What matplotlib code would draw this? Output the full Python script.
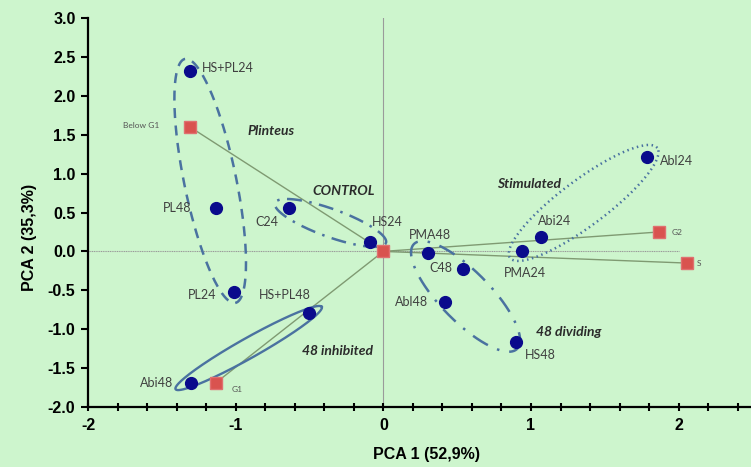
import numpy as np
import matplotlib
matplotlib.use("Agg")
import matplotlib.pyplot as plt

plt.rcParams["axes.unicode_minus"] = False

# samples (circles)
sample_names = ["HS+PL24", "PL48", "PL24", "C24", "HS24", "PMA48", "C48", "Abl48",
                "HS48", "PMA24", "Abi24", "Abl24", "HS+PL48", "Abi48"]
sample_x = [-1.31, -1.135, -1.01, -0.64, -0.09, 0.305, 0.54, 0.42,
            0.90, 0.94, 1.07, 1.785, -0.50, -1.305]
sample_y = [2.32, 0.555, -0.52, 0.555, 0.12, -0.015, -0.23, -0.65,
            -1.16, 0.0, 0.19, 1.21, -0.79, -1.69]
# label offsets in pixels (dx, dy, ha)
sample_lab = [(12, 3, "left"), (-24, 0, "right"), (-18, -3, "right"), (-10, -14, "right"),
              (2, 20, "left"), (2, 18, "center"), (-11, 1, "right"), (-17, 0, "right"),
              (9, -13, "left"), (3, -22, "center"), (13, 16, "center"), (13, -4, "left"),
              (1, 18, "right"), (-17, 0, "right")]

# cell cycle vectors (squares)
vec_names = ["Below G1", "G1", "G2", "S"]
vec_x = [-1.31, -1.135, 1.87, 2.055]
vec_y = [1.60, -1.69, 0.25, -0.15]
vec_lab = [(-31, 1, "right"), (16, -7, "left"), (12, -1, "left"), (10, 0, "left")]

# groups: ellipse end points (data), half width (px), line style, title position
group_names = ["Plinteus", "CONTROL", "Stimulated", "48 dividing", "48 inhibited"]
group_p1 = [(-1.343, 2.474), (-0.734, 0.623), (0.858, -0.084), (0.208, 0.096), (-1.407, -1.771)]
group_p2 = [(-1.002, -0.662), (0.018, 0.109), (1.855, 1.330), (0.906, -1.253), (-0.417, -0.713)]
group_hw = [26, 14, 23, 25, 10]
group_ls = [(0, (4, 3)), (0, (6, 3, 1, 3)), (0, (0.6, 1.4)), (0, (7, 4, 1, 4)), "-"]
group_txt = [(-0.761, 1.549), (-0.27, 0.778), (0.987, 0.868), (1.258, -1.035), (-0.307, -1.279)]

bg = "#cdf5cd"
ell_col = "#4a72a0"

fig = plt.figure(figsize=(7.51, 4.67), dpi=100, facecolor=bg)
ax = fig.add_axes([88 / 751, 1 - 407 / 467, 663 / 751, 389 / 467])
ax.set_facecolor(bg)
ax.set_xlim(-2, 2.49)
ax.set_ylim(-2, 3)

for s in ["top", "right"]:
    ax.spines[s].set_visible(False)
for s in ["left", "bottom"]:
    ax.spines[s].set_linewidth(1.6)
    ax.spines[s].set_color("black")

ax.set_xticks([-2, -1, 0, 1, 2])
ax.set_xticks(np.arange(-2, 2.41, 0.2), minor=True)
ax.set_yticks(np.arange(-2, 3.01, 0.5))
ax.set_yticklabels(["%.1f" % v for v in np.arange(-2, 3.01, 0.5)])
ax.tick_params(axis="x", which="both", direction="inout", length=6, width=1.5,
               labelsize=11.5, pad=5)
ax.tick_params(axis="y", which="major", direction="out", length=5, width=1.5,
               labelsize=11.5, pad=4)
for lab in ax.get_xticklabels() + ax.get_yticklabels():
    lab.set_fontweight("bold")
    lab.set_family("Liberation Sans")

ax.set_xlabel("PCA 1 (52,9%)", fontsize=11.5, fontweight="bold", family="Liberation Sans")
ax.set_ylabel("PCA 2 (35,3%)", fontsize=11.5, fontweight="bold", family="Liberation Sans")
ax.xaxis.set_label_coords(0.511, -0.102)
ax.yaxis.set_label_coords(-0.077, 0.437)

# reference axes through origin
ax.plot([-2, 2], [0, 0], color="#9a9a9a", lw=0.8, ls=(0, (1, 0.6)), zorder=1)
ax.plot([0, 0], [-2, 3], color="#9a9a9a", lw=0.8, zorder=1)

# vectors from origin
for vx, vy in zip(vec_x, vec_y):
    ax.plot([0, vx], [0, vy], color="#7f9a72", lw=1.0, zorder=2)

# group ellipses drawn in screen space
fig.canvas.draw()
tr = ax.transData
inv = tr.inverted()
t = np.linspace(0, 2 * np.pi, 300)
for p1, p2, hw, ls in zip(group_p1, group_p2, group_hw, group_ls):
    a = tr.transform(p1)
    b = tr.transform(p2)
    c = (a + b) / 2
    d = b - a
    L = np.hypot(*d) / 2
    u = d / np.hypot(*d)
    v = np.array([-u[1], u[0]])
    pts = c + np.outer(L * np.cos(t), u) + np.outer(hw * np.sin(t), v)
    dp = inv.transform(pts)
    lw = 1.7 if ls == "-" else 1.8
    ax.plot(dp[:, 0], dp[:, 1], color=ell_col, lw=lw, ls=ls, zorder=3)

for name, (gx, gy) in zip(group_names, group_txt):
    ax.text(gx, gy, name, fontsize=10, fontweight="bold", fontstyle="italic",
            family="Lato", color="#2b2b2b", ha="center", va="center", zorder=5)

ax.plot(vec_x + [0], vec_y + [0], ls="none", marker="s", ms=8, color="#d9534f",
        mec="#e07070", zorder=4)
ax.plot(sample_x, sample_y, ls="none", marker="o", ms=8.5, color="#0a0a8c", zorder=4)

for name, x, y, (dx, dy, ha) in zip(sample_names, sample_x, sample_y, sample_lab):
    ax.annotate(name, (x, y), xytext=(dx, dy), textcoords="offset pixels",
                fontsize=9, family="Lato", color="#404040", ha=ha, va="center", zorder=5)
for name, x, y, (dx, dy, ha) in zip(vec_names, vec_x, vec_y, vec_lab):
    ax.annotate(name, (x, y), xytext=(dx, dy), textcoords="offset pixels",
                fontsize=6, family="Lato", color="#555555", ha=ha, va="center", zorder=5)

fig.savefig("out.png", dpi=100, facecolor=bg)
